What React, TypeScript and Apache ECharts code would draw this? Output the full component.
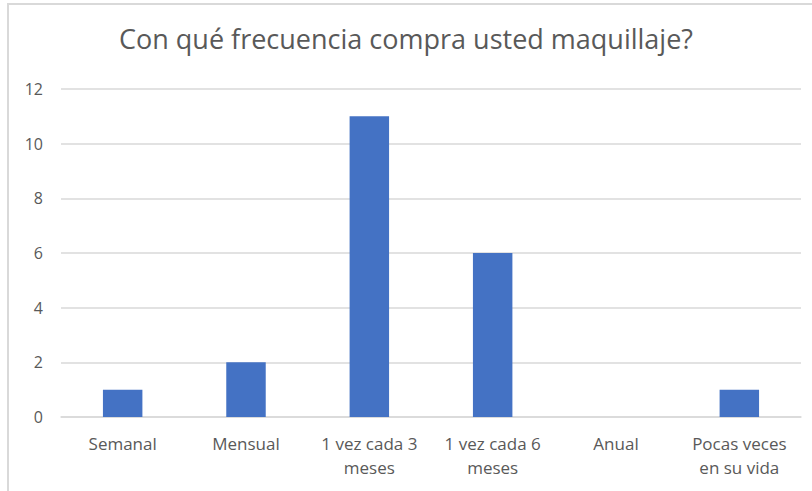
import React, { useEffect, useRef } from "react";
import * as echarts from "echarts";

const titleText = "Con qué frecuencia compra usted maquillaje?";
const categories = [
  "Semanal",
  "Mensual",
  "1 vez cada 3\nmeses",
  "1 vez cada 6\nmeses",
  "Anual",
  "Pocas veces\nen su vida",
];
const values = [1, 2, 11, 6, 0, 1];
const yMin = 0;
const yMax = 12;
const yStep = 2;

export default function App() {
  const ref = useRef<HTMLDivElement>(null);
  useEffect(() => {
    document.body.style.margin = "0";
    const chart = echarts.init(ref.current!, null, { renderer: "svg" });
    const font = "'Open Sans', 'Noto Sans', sans-serif";
    chart.setOption({
      animation: false,
      backgroundColor: "#ffffff",
      textStyle: { fontFamily: font },
      title: {
        text: titleText,
        left: "center",
        top: 25,
        padding: 0,
        textStyle: { fontFamily: font, fontSize: 27, fontWeight: "normal", color: "#595959" },
      },
      graphic: [
        {
          type: "rect",
          shape: { x: 8, y: 4, width: 900, height: 600 },
          style: { fill: "none", stroke: "#d9d9d9", lineWidth: 2 },
          silent: true,
        },
      ],
      grid: { left: 61, right: 11, top: 89, bottom: 74, containLabel: false },
      xAxis: {
        type: "category",
        data: categories,
        axisLine: { lineStyle: { color: "#d9d9d9", width: 1.5 } },
        axisTick: { show: false },
        axisLabel: {
          color: "#595959",
          fontSize: 17,
          fontFamily: font,
          interval: 0,
          margin: 14,
          lineHeight: 24,
        },
      },
      yAxis: {
        type: "value",
        min: yMin,
        max: yMax,
        interval: yStep,
        axisLine: { show: false },
        axisTick: { show: false },
        splitLine: { lineStyle: { color: "#d9d9d9", width: 1.5 } },
        axisLabel: { color: "#595959", fontSize: 16, fontFamily: font, margin: 18 },
      },
      series: [
        {
          type: "bar",
          data: values,
          barWidth: "32%",
          itemStyle: { color: "#4472C4" },
        },
      ],
    });
    return () => chart.dispose();
  }, []);
  return <div ref={ref} style={{ width: 812, height: 491 }} />;
}
